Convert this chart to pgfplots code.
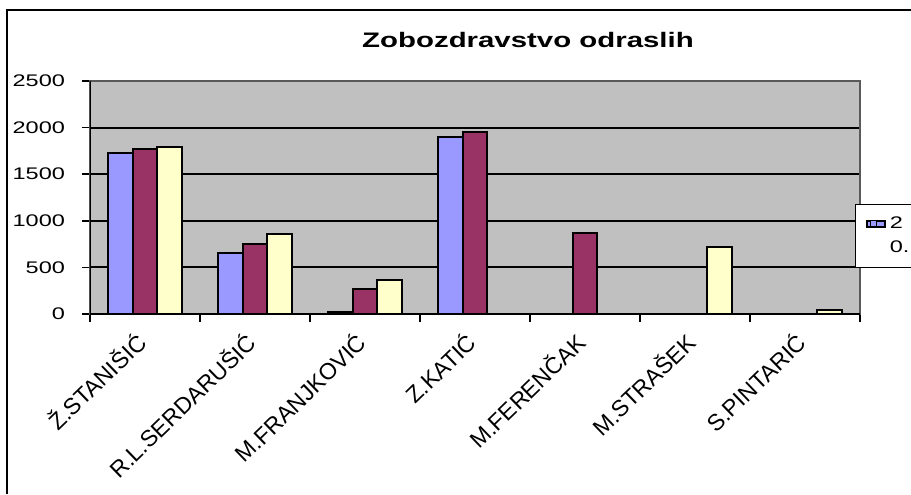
\documentclass[border=0pt]{standalone}
\usepackage{pgfplots}
\pgfplotsset{compat=1.18}
\usepackage{graphicx}
\usepackage{fontspec}
\setmainfont{Liberation Sans}
\definecolor{serA}{HTML}{9999FF}
\definecolor{serB}{HTML}{993366}
\definecolor{serC}{HTML}{FFFFCC}
\definecolor{plotbg}{HTML}{C0C0C0}
\newcommand{\wide}[1]{\scalebox{1.4}[1]{#1}}
\begin{document}
\begin{tikzpicture}
\useasboundingbox (0,0) rectangle (455.5pt,247pt);
\clip (0,0) rectangle (455.5pt,247pt);
\draw[line width=0.6pt] (3.5pt,0) -- (3.5pt,242pt) -- (460pt,242pt);
\node[font=\fontsize{10.5}{12}\selectfont\bfseries] at (264pt,227pt) {\wide{Zobozdravstvo odraslih}};
\begin{axis}[
  at={(45pt,90pt)}, anchor=south west,
  scale only axis, width=385pt, height=116.5pt,
  xmin=-0.5, xmax=6.5, ymin=0, ymax=2500,
  axis background/.style={fill=plotbg},
  axis line style={draw=gray!70!black, line width=0.6pt},
  ytick={0,500,1000,1500,2000,2500},
  yticklabels={\wide{0},\wide{500},\wide{1000},\wide{1500},\wide{2000},\wide{2500}},
  ymajorgrids, grid style={black, line width=1pt},
  xtick={0,...,6},
  xticklabels={Ž.STANIŠIĆ,R.L.SERDARUŠIĆ,M.FRANJKOVIĆ,Z.KATIĆ,M.FERENČAK,M.STRAŠEK,S.PINTARIĆ},
  minor xtick={-0.5,0.5,...,6.5},
  x tick style={draw=none},
  minor x tick style={draw=black, line width=0.8pt},
  minor tick length=4pt,
  y tick style={draw=black, line width=0.8pt},
  major tick length=4pt,
  tick align=outside,
  tick pos=left,
  yticklabel style={font=\fontsize{8.4}{10}\selectfont, xshift=-5pt},
  xticklabel style={font=\fontsize{11.5}{13}\selectfont, xshift=-5.5pt, yshift=-4pt, rotate=44, anchor=north east, inner sep=0pt},
  ybar, bar width=12.2pt,
  legend style={at={(rel axis cs:0.994,0.472)}, anchor=north west, draw=black, fill=white,
    font=\fontsize{8.4}{10}\selectfont, row sep=1pt, inner xsep=5pt, inner ysep=4pt},
  legend cell align=left,
]
\addplot[draw=black, line width=1pt, fill=serA, bar shift=-12.2pt,
  legend image code/.code={\path (0pt,-1.5pt) rectangle (9pt,1.5pt);\draw[fill=serA,draw=black,line width=0.5pt] (2pt,-1.5pt) rectangle (5pt,1.5pt);}]
  coordinates {(0,1731) (1,656) (2,25) (3,1903)};
\addlegendentry{\wide{2}}
\addlegendimage{draw=none, fill=none, line width=0pt, legend image code/.code={\path (0pt,-1.5pt) rectangle (9pt,1.5pt);}}
\addlegendentry{\wide{0..}}
\addplot[draw=black, line width=1pt, fill=serB, bar shift=0pt, forget plot]
  coordinates {(0,1774) (1,753) (2,269) (3,1949) (4,867)};
\addplot[draw=black, line width=1pt, fill=serC, bar shift=12.2pt, forget plot]
  coordinates {(0,1788) (1,856) (2,369) (5,716) (6,39)};
\draw[black, line width=1pt] (rel axis cs:0,0) -- (rel axis cs:0,1);
\draw[black, line width=1pt] (rel axis cs:0,0) -- (rel axis cs:1,0);
\end{axis}
\end{tikzpicture}
\end{document}
